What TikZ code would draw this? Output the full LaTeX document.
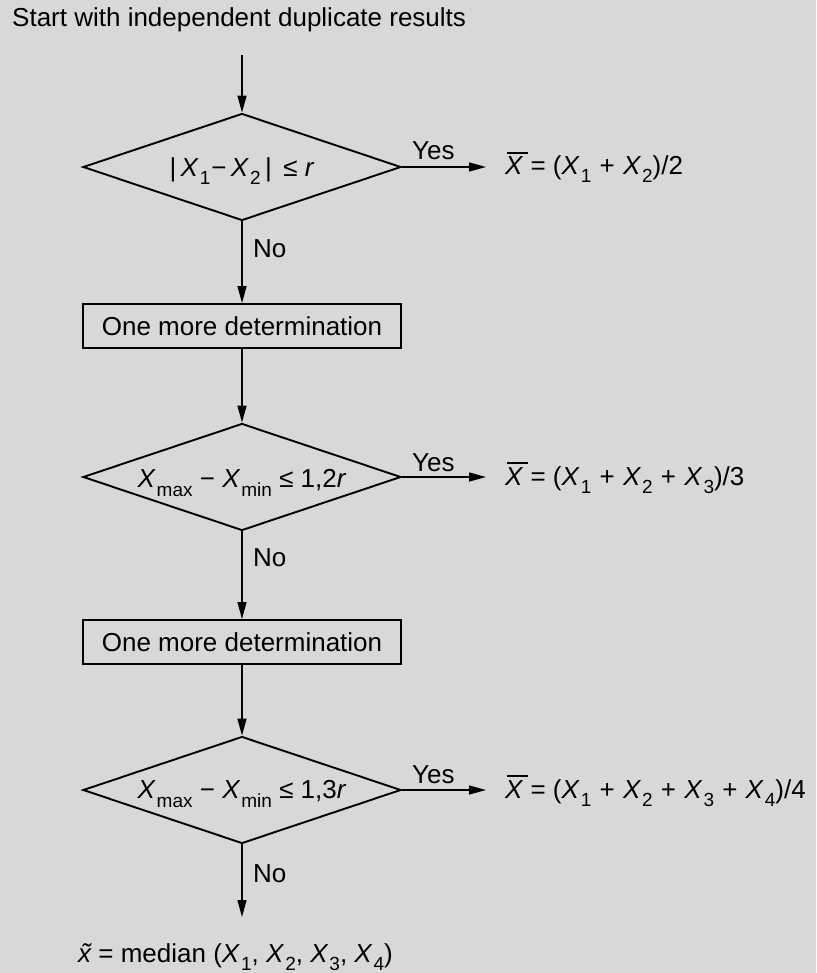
\documentclass[tikz,border=0pt]{standalone}
\usepackage{fontspec}
\setmainfont{Liberation Sans}
\usetikzlibrary{arrows.meta,shapes.geometric}
\definecolor{bg}{RGB}{216,216,216}
\newcommand\XX[1]{\textit{X}\kern1pt\raisebox{-8pt}{\fontsize{19}{19}\selectfont #1}}
\newcommand\Xsub[1]{\textit{X}\kern1pt\raisebox{-9pt}{\fontsize{19}{19}\selectfont #1}}
\newcommand\Xbar{\leavevmode\rlap{\kern2pt\rule[21pt]{21pt}{1.8pt}}\textit{X}}
\newcommand\pl{\ \kern1pt+\ \kern1pt}
\begin{document}
\begin{tikzpicture}[x=1pt,y=-1pt,
  txt/.style={font=\fontsize{26}{30}\selectfont, inner sep=0pt},
  dec/.style={draw, line width=1.9pt, shape=diamond, minimum width=318pt, minimum height=107pt, inner sep=0pt},
  stepbox/.style={draw, line width=1.9pt, minimum width=318pt, minimum height=44pt, inner sep=0pt, font=\fontsize{26}{30}\selectfont},
  arr/.style={line width=1.4pt, -{Triangle[length=17pt,width=9pt]}}]
\fill[bg] (0,0) rectangle (816,973);
\useasboundingbox (0,0) rectangle (816,973);

\node[txt, anchor=base west] (start) at (12,27) {Start with independent duplicate results};
\coordinate (s0) at (242,55);

% decision 1
\node[dec] (d1) at (242,167) {};
\node[txt, anchor=base] (t1) at (242,177) {|\,\XX{1}\kern1pt−\,\XX{2}\,|\, ≤ \textit{r}};
\draw[arr] (s0) -- (d1.north);
\node[txt, anchor=base west] (yes1) at (412,160) {Yes};
\coordinate (e1) at (486,167);
\draw[arr] (d1.east) -- (e1);
\node[txt, anchor=base west] (r1) at (505,175) {\Xbar\ = (\XX{1}\pl\XX{2})/2};

% step 1
\node[stepbox] (b1) at (242,326) {One more determination};
\draw[arr] (d1.south) -- (b1.north);
\node[txt, anchor=base west] (no1) at (253,258) {No};

% decision 2
\node[dec] (d2) at (242,477) {};
\node[txt, anchor=base] (t2) at (242,487) {\Xsub{max} − \Xsub{min} ≤ 1,2\textit{r}};
\draw[arr] (b1.south) -- (d2.north);
\node[txt, anchor=base west] (yes2) at (412,471) {Yes};
\coordinate (e2) at (486,477);
\draw[arr] (d2.east) -- (e2);
\node[txt, anchor=base west] (r2) at (505,485) {\Xbar\ = (\XX{1}\pl\XX{2}\pl\XX{3})/3};

% step 2
\node[stepbox] (b2) at (242,642) {One more determination};
\draw[arr] (d2.south) -- (b2.north);
\node[txt, anchor=base west] (no2) at (253,566) {No};

% decision 3
\node[dec] (d3) at (242,790) {};
\node[txt, anchor=base] (t3) at (242,798) {\Xsub{max} − \Xsub{min} ≤ 1,3\textit{r}};
\draw[arr] (b2.south) -- (d3.north);
\node[txt, anchor=base west] (yes3) at (412,783) {Yes};
\coordinate (e3) at (486,790);
\draw[arr] (d3.east) -- (e3);
\node[txt, anchor=base west] (r3) at (505,798) {\Xbar\ = (\XX{1}\pl\XX{2}\pl\XX{3}\pl\XX{4})/4};

% end
\node[txt, anchor=base west] (no3) at (253,882) {No};
\coordinate (f) at (242,917);
\draw[arr] (d3.south) -- (f);
\node[txt, anchor=base west] (med) at (78,962) {\textit{\~x} = median (\XX{1}, \XX{2}, \XX{3}, \XX{4})};
\end{tikzpicture}
\end{document}
